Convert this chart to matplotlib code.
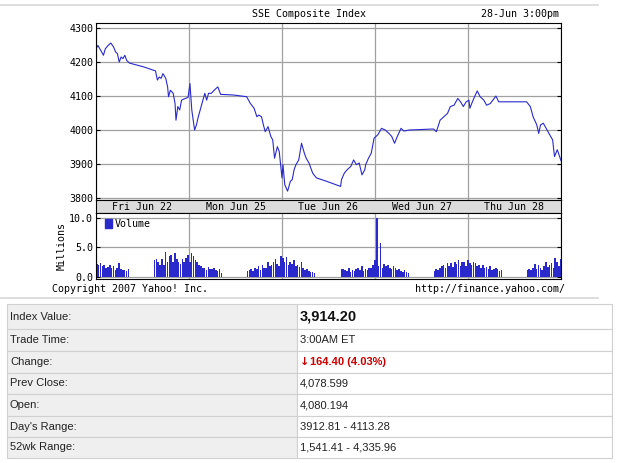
import matplotlib
matplotlib.use("Agg")
import matplotlib.pyplot as plt
from matplotlib.patches import Rectangle
from matplotlib.lines import Line2D
import numpy as np

title = "SSE Composite Index"
stamp = "28-Jun 3:00pm"
day_labels = ["Fri Jun 22", "Mon Jun 25", "Tue Jun 26", "Wed Jun 27", "Thu Jun 28"]
price_ticks = [3800, 3900, 4000, 4100, 4200, 4300]
vol_ticks = [0.0, 5.0, 10.0]

t = [0.00,.02,.05,.08,.10,.13,.16,.19,.21,.23,.25,.27,.29,.31,.33,.36,.51,.64,.66,.68,.70,.72,.75,.77,.78,.80,.83,.85,.86,.88,.90,.92,.96,.99,
     1.01,1.03,1.06,1.08,1.10,1.12,1.15,1.17,1.19,1.21,1.24,1.27,1.31,1.34,1.48,1.62,1.66,1.70,1.73,1.75,1.78,1.80,1.82,1.85,1.88,1.90,1.92,1.95,1.97,2.00,
     2.01,2.03,2.06,2.09,2.11,2.13,2.15,2.18,2.21,2.24,2.26,2.29,2.33,2.37,2.48,2.63,2.64,2.67,2.70,2.74,2.77,2.80,2.83,2.86,2.89,2.90,2.93,2.96,2.99,
     3.03,3.07,3.11,3.15,3.18,3.21,3.24,3.28,3.31,3.37,3.63,3.66,3.70,3.74,3.78,3.81,3.85,3.89,3.92,3.95,3.98,4.01,
     4.02,4.04,4.07,4.10,4.13,4.17,4.20,4.24,4.30,4.33,4.37,4.63,4.67,4.70,4.74,4.76,4.78,4.81,4.84,4.87,4.91,4.93,4.96,5.00]
price = [4239,4249,4235,4220,4239,4249,4256,4244,4230,4225,4200,4215,4210,4220,4205,4197,4186,4174,4147,4156,4152,4166,4152,4127,4098,4117,4108,4078,4029,4069,4059,4088,4093,4096,
         4137,4059,4000,4015,4039,4059,4088,4108,4088,4108,4108,4117,4127,4105,4103,4098,4078,4064,4039,4044,4039,4015,3995,4010,3981,3971,3917,3951,3937,3859,
         3898,3839,3820,3849,3854,3883,3898,3912,3961,3932,3917,3903,3873,3859,3849,3834,3854,3873,3883,3893,3912,3898,3903,3868,3883,3898,3917,3932,3976,
         3986,4005,4000,3990,3981,3961,3981,4005,3997,4000,4003,3995,4029,4039,4049,4069,4073,4093,4083,4069,4083,4088,
         4064,4078,4098,4115,4098,4088,4073,4078,4100,4083,4083,4083,4069,4039,4015,3990,4015,4020,4005,3990,3971,3922,3942,3910]

vol_starts = [0.0, 0.62, 1.62, 2.63, 3.63, 4.63]
vol_step = 0.02
vol_segments = [
    [2.2,2.1,2.3,1.8,2.0,1.6,1.7,2.0,1.5,1.8,1.2,1.5,2.3,1.3,1.1,1.2,1.0,1.3],
    [2.8,3.0,2.5,2.0,3.0,2.0,4.2,2.5,3.5,3.8,2.5,4.0,3.0,2.6,2.2,3.0,2.5,3.2,3.8,2.5,4.0,3.5,2.8,2.5,2.0,1.8,1.6,1.5,1.2,1.7,1.4,1.3,1.5,1.2,1.0,1.3,0.6],
    [1.0,1.2,1.3,1.0,1.6,1.4,1.8,1.2,2.0,1.6,1.5,2.6,1.8,2.0,2.5,3.0,2.2,1.8,3.5,3.2,2.5,3.4,2.0,2.6,2.2,2.8,1.8,2.0,1.7,2.5,1.5,1.2,1.4,1.0,0.9,0.8,0.7],
    [1.4,1.3,1.2,1.0,1.5,0.9,1.2,1.0,1.4,1.6,1.2,1.8,1.0,1.3,1.2,1.5,1.6,2.0,2.8,10.0,1.8,5.8,1.5,2.2,1.8,2.0,1.6,1.4,1.8,1.5,1.2,1.4,1.0,0.9,1.2,0.8,0.6],
    [1.0,1.3,1.2,1.5,1.8,2.0,1.6,2.3,1.9,2.4,1.7,2.5,2.2,2.8,1.8,2.5,2.6,1.9,2.8,2.3,2.0,2.6,2.4,1.8,2.1,1.6,2.0,1.5,1.7,1.3,1.8,1.2,1.4,1.6,1.3,1.0,1.2],
    [1.2,1.3,1.1,1.5,2.2,1.4,2.0,1.6,1.2,1.8,2.5,1.7,2.0,2.4,1.5,3.2,2.6,1.9,3.0],
]

table_labels = ["Index Value:", "Trade Time:", "Change:", "Prev Close:", "Open:", "Day's Range:", "52wk Range:"]
table_values = ["3,914.20", "3:00AM ET", "164.40 (4.03%)", "4,078.599", "4,080.194", "3912.81 - 4113.28", "1,541.41 - 4,335.96"]

W, H = 619, 463
fig = plt.figure(figsize=(W/100, H/100), dpi=100)
fig.patch.set_facecolor("white")

def fx(px): return px / W
def fy(py): return 1 - py / H

mono = "DejaVu Sans Mono"
fs = 7.2
L, R = 96, 561
blue = "#2a2acc"
gridc = "#a0a0a0"

ax = fig.add_axes([fx(L), fy(200), fx(R-L), (200-23)/H])
ax.plot(t, price, color=blue, lw=0.8)
ax.set_xlim(0, 5)
ax.set_ylim(3794, 4315)
ax.set_yticks(price_ticks)
ax.set_yticklabels([str(v) for v in price_ticks], family=mono, fontsize=fs)
ax.set_xticks(range(6))
ax.set_xticklabels([])
ax.grid(True, color=gridc, lw=0.9)
ax.tick_params(length=3, direction="in", pad=2, right=True, left=True, bottom=False)

band = fig.add_axes([fx(L), fy(213), fx(R-L), 13/H])
band.set_facecolor("#dcdcdc")
band.set_xlim(0, 5); band.set_ylim(0, 1)
band.set_xticks([]); band.set_yticks([])
for i, lab in enumerate(day_labels):
    band.text(i + 0.5, 0.45, lab, ha="center", va="center", family=mono, fontsize=fs)

vax = fig.add_axes([fx(L), fy(279), fx(R-L), 66/H])
for st, seg in zip(vol_starts, vol_segments):
    xs = st + vol_step * np.arange(len(seg))
    vax.bar(xs, seg, width=vol_step*0.85, align="edge", color=blue, lw=0)
vax.set_xlim(0, 5)
vax.set_ylim(-0.35, 10.85)
vax.set_yticks(vol_ticks)
vax.set_yticklabels(["0.0", "5.0", "10.0"], family=mono, fontsize=fs)
vax.set_xticks(range(6)); vax.set_xticklabels([])
vax.grid(True, color=gridc, lw=0.9)
vax.set_axisbelow(True)
vax.tick_params(length=3, direction="in", pad=2, right=True, bottom=False)
vax.set_ylabel("Millions", family=mono, fontsize=fs, labelpad=2)
vax.add_patch(Rectangle((0.02, 0.78), 0.014, 0.13, transform=vax.transAxes, color=blue))
vax.text(0.04, 0.84, "Volume", transform=vax.transAxes, va="center", family=mono, fontsize=fs)

fig.text(fx((L+R)/2 - 20), fy(14), title, ha="center", va="center", family=mono, fontsize=fs)
fig.text(fx(559), fy(14), stamp, ha="right", va="center", family=mono, fontsize=fs)
fig.text(fx(52), fy(289), "Copyright 2007 Yahoo! Inc.", ha="left", va="center", family=mono, fontsize=fs)
fig.text(fx(565), fy(289), "http://finance.yahoo.com/", ha="right", va="center", family=mono, fontsize=fs)

for py in (5, 298):
    fig.add_artist(Line2D([0, fx(598)], [fy(py), fy(py)], color="#d8d8d8", lw=1.2))

edges = [304, 329, 351, 373, 394, 416, 437, 458]
x0, x1, x2 = 7, 297, 612
for i in range(len(table_labels)):
    top, bot = edges[i], edges[i+1]
    fig.add_artist(Rectangle((fx(x0), fy(bot)), fx(x1-x0), (bot-top)/H, facecolor="#efefef", edgecolor="#d0d0d0", lw=0.8))
    fig.add_artist(Rectangle((fx(x1), fy(bot)), fx(x2-x1), (bot-top)/H, facecolor="white", edgecolor="#d0d0d0", lw=0.8))
    yc = fy((top+bot)/2)
    fig.text(fx(x0+3), yc, table_labels[i], va="center", family="Liberation Sans", fontsize=8, color="#222222")
    if i == 0:
        fig.text(fx(x1+3), yc, table_values[i], va="center", family="Liberation Sans", fontsize=10.5, weight="bold", color="#111111")
    elif i == 2:
        fig.text(fx(x1+3), yc, "\u2193", va="center", family="DejaVu Sans", fontsize=8, weight="bold", color="#cc0000")
        fig.text(fx(x1+13), yc, table_values[i], va="center", family="Liberation Sans", fontsize=8, weight="bold", color="#cc0000")
    else:
        fig.text(fx(x1+3), yc, table_values[i], va="center", family="Liberation Sans", fontsize=8, color="#222222")

fig.savefig("out.png", dpi=100)
